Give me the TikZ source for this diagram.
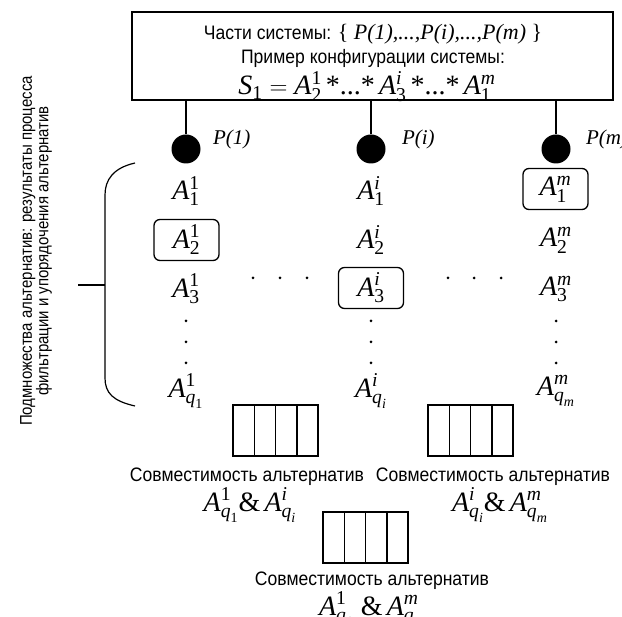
\documentclass[tikz,border=0pt]{standalone}
\usepackage{amsmath}
\usepackage{fontspec}
\usetikzlibrary{calc}
\newfontfamily\sansf[FakeStretch=0.9]{Liberation Sans}
\newfontfamily\sansn[FakeStretch=0.88]{Liberation Sans}
\newfontfamily\tnr{Liberation Serif}
\newcommand\ti[1]{\text{\tnr\itshape #1}}
\newcommand\tr[1]{\text{\tnr\upshape #1}}
\newcommand\Alt[2]{$\ti{A}^{#1}_{#2}$}
\tikzset{
  every node/.style={inner sep=0pt, outer sep=0pt},
  alt/.style={font=\fontsize{28}{30}\selectfont},
  altbox/.style={alt, draw, rounded corners=6pt, line width=1.3pt, minimum width=65pt, minimum height=41pt},
  part/.style={circle, fill=black, minimum size=29pt},
  plab/.style={font=\tnr\itshape\fontsize{21}{24}\selectfont, anchor=base west},
  sanstxt/.style={font=\sansf\fontsize{19.5}{22}\selectfont},
  vdot/.style={circle, fill=black, minimum size=3pt},
  tab/.style={draw, line width=1.5pt, minimum width=85pt, minimum height=51pt},
  conn/.style={line width=1.2pt},
}
\begin{document}
\begin{tikzpicture}[x=1pt,y=-1pt]
\useasboundingbox (0,0) rectangle (622,617);
% top box
\node[draw, line width=1.6pt, minimum width=481pt, minimum height=88pt] (topbox) at (372.5,56) {};
\node[anchor=base] (l1) at (373,40) {\sansf\fontsize{19.5}{22}\selectfont Части системы: {\tnr\fontsize{22}{24}\selectfont\{ \itshape P(1),...,P(i),...,P(m) \upshape\}}};
\node[anchor=base] (l2) at (373,64) {\sansf\fontsize{19.5}{22}\selectfont Пример конфигурации системы:};
\node[anchor=base, font=\fontsize{28}{30}\selectfont] (l3) at (367,95) {$\ti{S}_{\tr{1}}=\ti{A}^{\tr{1}}_{\tr{2}}\,\tr{*}\tr{...}\tr{*}\,\ti{A}^{\ti{i}}_{\tr{3}}\,\tr{*}\tr{...}\tr{*}\,\ti{A}^{\ti{m}}_{\tr{1}}$};
% parts
\node[part] (c1) at (186,149) {};
\node[part] (ci) at (371,149) {};
\node[part] (cm) at (556,149) {};
\draw[conn] (topbox.south -| c1) -- (c1.north);
\draw[conn] (topbox.south -| ci) -- (ci.north);
\draw[conn] (topbox.south -| cm) -- (cm.north);
\node[plab] (p1) at (213,145) {P(1)};
\node[plab] (pi) at (402,145) {P(i)};
\node[plab] (pm) at (586,145) {P(m)};
% column 1
\node[alt] (a11) at (186,191) {\Alt{\tr{1}}{\tr{1}}};
\node[altbox] (a12) at (186.5,240) {\Alt{\tr{1}}{\tr{2}}};
\node[alt] (a13) at (186,289) {\Alt{\tr{1}}{\tr{3}}};
\node[vdot] (d11) at (186,321) {};
\node[vdot] (d12) at (186,342) {};
\node[vdot] (d13) at (186,363) {};
\node[alt] (a1q) at (186,391) {\Alt{\tr{1}}{\ti{q}_{\tr{1}}}};
% column i
\node[alt] (ai1) at (371,191) {\Alt{\ti{i}}{\tr{1}}};
\node[alt] (ai2) at (371,240) {\Alt{\ti{i}}{\tr{2}}};
\node[altbox] (ai3) at (371,288) {\Alt{\ti{i}}{\tr{3}}};
\node[vdot] (di1) at (371,321) {};
\node[vdot] (di2) at (371,342) {};
\node[vdot] (di3) at (371,363) {};
\node[alt] (aiq) at (371,391) {\Alt{\ti{i}}{\ti{q}_{\ti{i}}}};
% column m
\node[altbox] (am1) at (555.5,189) {\Alt{\ti{m}}{\tr{1}}};
\node[alt] (am2) at (556,240) {\Alt{\ti{m}}{\tr{2}}};
\node[alt] (am3) at (556,289) {\Alt{\ti{m}}{\tr{3}}};
\node[vdot] (dm1) at (556,321) {};
\node[vdot] (dm2) at (556,342) {};
\node[vdot] (dm3) at (556,363) {};
\node[alt] (amq) at (556,391) {\Alt{\ti{m}}{\ti{q}_{\ti{m}}}};
% horizontal dots
\node[vdot] (h1) at (253,278) {};
\node[vdot] (h2) at (280,278) {};
\node[vdot] (h3) at (307,278) {};
\node[vdot] (h4) at (448,278) {};
\node[vdot] (h5) at (474,278) {};
\node[vdot] (h6) at (501,278) {};
% brace
\draw[line width=1.2pt] (135,163) .. controls (113,168) and (105,180) .. (105,195) -- (105,378) .. controls (105,393) and (113,401) .. (135,406);
\coordinate (bmid) at (105,285);
\coordinate (tick) at (78,285);
\draw[line width=1.2pt] (tick) -- (bmid);
\node[rotate=90, align=center, font=\sansn\fontsize{17}{16.5}\selectfont] (vt) at (36,251) {Подмножества альтернатив: результаты процесса\\фильтрации и упорядочения альтернатив};
% compatibility tables
\node[tab] (t1) at (275.5,430.5) {};
\node[tab] (t2) at (470.5,430.5) {};
\node[tab] (t3) at (365.5,537.5) {};
\foreach \t in {t1,t2,t3}{
  \foreach \k in {1,2,3}{
    \draw[line width=1.5pt] ($(\t.north west)!\k/4!(\t.north east)$) -- ($(\t.south west)!\k/4!(\t.south east)$);
  }
}
\node[sanstxt] (s1) at (247,477) {Совместимость альтернатив};
\node[sanstxt] (s2) at (493,477) {Совместимость альтернатив};
\node[sanstxt] (s3) at (372,581) {Совместимость альтернатив};
\node[alt] (f1) at (250,505) {$\ti{A}^{\tr{1}}_{\ti{q}_{\tr{1}}}\tr{\&}\,\ti{A}^{\ti{i}}_{\ti{q}_{\ti{i}}}$};
\node[alt] (f2) at (500,505) {$\ti{A}^{\ti{i}}_{\ti{q}_{\ti{i}}}\tr{\&}\,\ti{A}^{\ti{m}}_{\ti{q}_{\ti{m}}}$};
\node[alt] (f3) at (372,609) {$\ti{A}^{\tr{1}}_{\ti{q}_{\tr{1}}}\;\tr{\&}\,\ti{A}^{\ti{m}}_{\ti{q}_{\ti{m}}}$};
\end{tikzpicture}
\end{document}
